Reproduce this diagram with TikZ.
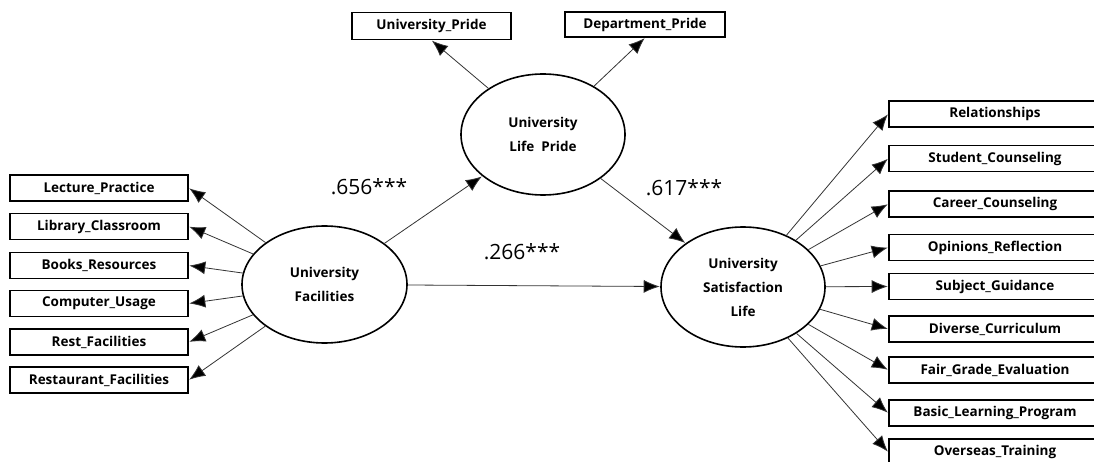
\documentclass[tikz,border=0pt]{standalone}
\usepackage{fontspec}
\setmainfont{Open Sans}
\usetikzlibrary{shapes.geometric,arrows.meta}
\tikzset{
  obs/.style={draw, line width=1.6pt, minimum height=26pt, inner sep=0pt,
    font=\bfseries\fontsize{13.5}{15}\selectfont},
  lat/.style={ellipse, draw, line width=1.6pt, inner sep=0pt, align=center,
    font=\bfseries\fontsize{13.5}{24}\selectfont},
  arr/.style={-{Latex[length=16pt,width=13pt,fill=black]}, line width=0.8pt, draw=black!80, shorten >=0.5pt},
  coef/.style={font=\fontsize{21}{24}\selectfont, inner sep=0pt},
}
\begin{document}
\begin{tikzpicture}[x=1pt,y=-1pt]
\useasboundingbox (0,0) rectangle (1094,462);
% latent variables
\node[lat, minimum width=165pt, minimum height=117pt] (F) at (324.5,284.5) {University\\Facilities};
\node[lat, minimum width=164pt, minimum height=121pt] (P) at (543,134.5) {University\\Life~~Pride};
\node[lat, minimum width=164pt, minimum height=120pt] (S) at (743,287) {University\\Satisfaction\\Life};
% top indicators
\node[obs, minimum width=159pt, minimum height=27pt] (up) at (431.5,26) {University\_Pride};
\node[obs, minimum width=160pt, minimum height=25pt] (dp) at (645,24.5) {Department\_Pride};
% left indicators
\foreach \n/\y/\t in {l1/188/Lecture\_Practice, l2/226.5/Library\_Classroom, l3/265.5/Books\_Resources,
  l4/303.5/Computer\_Usage, l5/342/Rest\_Facilities, l6/380/Restaurant\_Facilities}
  \node[obs, minimum width=178pt] (\n) at (99,\y) {\t};
% right indicators
\foreach \n/\y/\t in {r1/114/Relationships, r2/158.5/Student\_Counseling, r3/204/Career\_Counseling,
  r4/247.5/Opinions\_Reflection, r5/286.5/Subject\_Guidance, r6/329/Diverse\_Curriculum,
  r7/370/Fair\_Grade\_Evaluation, r8/413/Basic\_Learning\_Program, r9/452/Overseas\_Training}
  \node[obs, minimum width=212pt] (\n) at (995,\y) {\t};
% connectors
\foreach \n in {l1,l2,l3,l4,l5,l6} \draw[arr] (F) -- (\n.east);
\foreach \n in {r1,r2,r3,r4,r5,r6,r7,r8,r9} \draw[arr] (S) -- (\n.west);
\draw[arr] (P) -- (up.south);
\draw[arr] (P) -- (dp.south);
\draw[arr] (F) -- (P);
\draw[arr] (P) -- (S);
\draw[arr] (F) -- (S);
% coefficients
\node[coef] (c1) at (369,187) {.656***};
\node[coef] (c2) at (522,252) {.266***};
\node[coef] (c3) at (684,188) {.617***};
\end{tikzpicture}
\end{document}
